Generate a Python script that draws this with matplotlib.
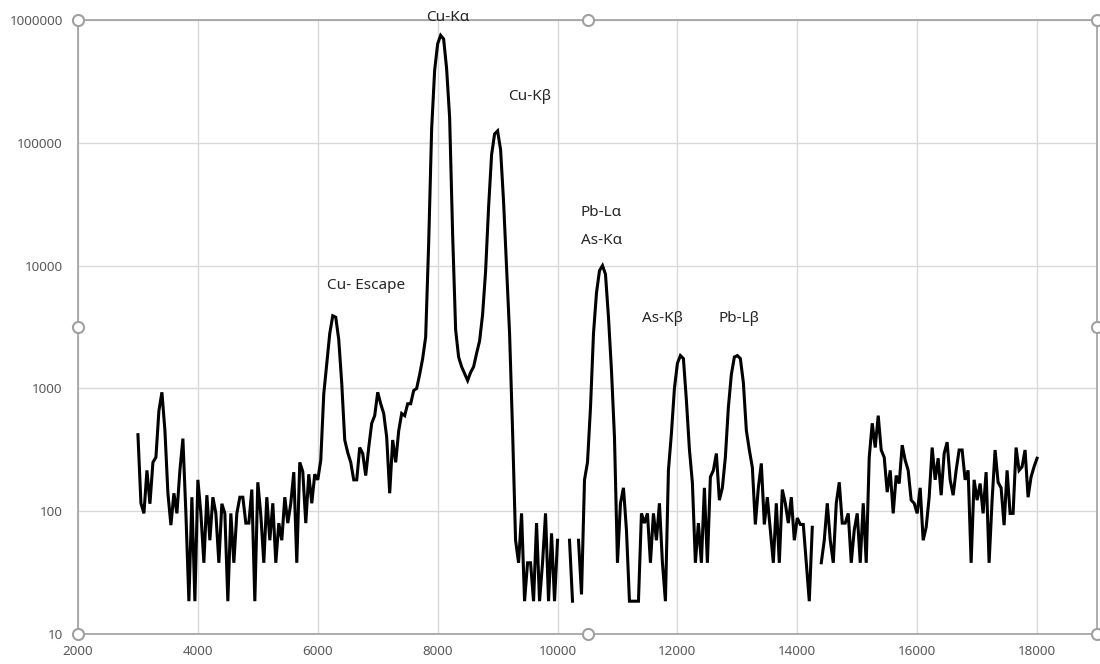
#!/usr/bin/env python3
"""XRF spectrum (log counts) with Cu / Pb / As line labels."""

import matplotlib
matplotlib.use("Agg")
import matplotlib.pyplot as plt
import numpy as np

nan = np.nan

# channel energies (eV), 50 eV steps from 3000 to 18000
energy = np.arange(3000, 18001, 50)

# counts, one list per 1000 eV
seg_3000 = [420, 116, 96, 215, 115, 250, 275, 660, 930, 455, 140, 77, 140, 96, 215, 390, 96, 18.5, 130, 18.5]
seg_4000 = [180, 96, 38, 135, 58, 130, 96, 38, 115, 96, 18.5, 96, 38, 96, 130, 130, 80, 80, 150, 18.5]
seg_5000 = [172, 93, 38, 130, 58, 116, 38, 80, 58, 130, 80, 116, 208, 38, 250, 210, 80, 200, 116, 200]
seg_6000 = [180, 260, 900, 1600, 2800, 3900, 3800, 2500, 1100, 380, 300, 250, 180, 180, 330, 295, 195, 330, 520, 600]
seg_7000 = [930, 750, 625, 400, 140, 380, 250, 450, 625, 600, 750, 750, 960, 1000, 1300, 1750, 2620, 15000, 130000, 390000]
seg_8000 = [640000, 750000, 700000, 400000, 160000, 18000, 3000, 1800, 1500, 1320, 1160, 1350, 1500, 1930, 2440, 4000, 9000, 30000, 80000, 118000]
seg_9000 = [125000, 88000, 33000, 9500, 2800, 450, 58, 38, 96, 18.5, 38, 38, 18.5, 80, 18.5, 38, 96, 18.5, 66, 18.5]
seg_10000 = [58, nan, nan, nan, 58, 18.5, nan, 58, 21, 180, 250, 700, 2800, 6000, 9100, 10000, 8500, 3800, 1400, 400]
seg_11000 = [38, 116, 155, 70, 18.5, 18.5, 18.5, 18.5, 96, 80, 96, 38, 96, 58, 116, 38, 18.5, 215, 430, 1000]
seg_12000 = [1600, 1850, 1750, 800, 320, 170, 38, 80, 38, 155, 38, 190, 215, 295, 123, 155, 275, 700, 1300, 1800]
seg_13000 = [1850, 1750, 1120, 455, 315, 228, 78, 155, 245, 78, 130, 70, 38, 116, 38, 150, 116, 80, 130, 58]
seg_14000 = [88, 78, 78, 38, 18.5, 74, nan, nan, 38, 58, 116, 58, 38, 116, 172, 80, 80, 96, 38, 70]
seg_15000 = [96, 38, 116, 38, 275, 520, 330, 600, 315, 275, 143, 215, 96, 195, 168, 345, 260, 215, 123, 116]
seg_16000 = [96, 155, 58, 74, 130, 330, 180, 270, 135, 295, 365, 180, 135, 215, 315, 315, 180, 215, 38, 180]
seg_17000 = [123, 168, 96, 208, 38, 123, 315, 172, 155, 77, 215, 96, 96, 330, 215, 230, 315, 130, 190, 230]
seg_18000 = [270]

counts = np.array(
    seg_3000 + seg_4000 + seg_5000 + seg_6000 + seg_7000 + seg_8000 + seg_9000 + seg_10000
    + seg_11000 + seg_12000 + seg_13000 + seg_14000 + seg_15000 + seg_16000 + seg_17000 + seg_18000,
    dtype=float,
)

x_ticks = [2000, 4000, 6000, 8000, 10000, 12000, 14000, 16000, 18000]
y_ticks = [10, 100, 1000, 10000, 100000, 1000000]

# peak labels: (text, energy, counts)
labels = [
    ("Cu-Kα", 8170, 1.04e6),
    ("Cu-Kβ", 9530, 2.4e5),
    ("Cu- Escape", 6810, 6900),
    ("Pb-Lα", 10730, 27000),
    ("As-Kα", 10730, 16000),
    ("As-Kβ", 11750, 3700),
    ("Pb-Lβ", 13030, 3700),
]

plt.rcParams["font.family"] = ["Noto Sans", "DejaVu Sans"]

fig = plt.figure(figsize=(11, 6.64), dpi=100)
ax = fig.add_axes([78 / 1100, 1 - 634 / 664, (1097 - 78) / 1100, (634 - 20) / 664])

ax.plot(energy, counts, color="black", lw=2.2, solid_joinstyle="miter")

ax.set_yscale("log")
ax.set_xlim(2000, 19000)
ax.set_ylim(10, 1000000)
ax.set_xticks(x_ticks)
ax.set_xticklabels([str(v) for v in x_ticks])
ax.set_yticks(y_ticks)
ax.set_yticklabels([str(v) for v in y_ticks])
ax.yaxis.set_minor_locator(matplotlib.ticker.NullLocator())
ax.tick_params(length=0, labelsize=9.7, labelcolor="#595959")
ax.tick_params(axis="y", pad=11)
ax.tick_params(axis="x", pad=8)
ax.grid(True, color="#d9d9d9", lw=1.0)
ax.set_axisbelow(True)
for sp in ax.spines.values():
    sp.set_color("#a6a6a6")
    sp.set_linewidth(1.3)

for text, ex, cy in labels:
    ax.text(ex, cy, text, ha="center", va="center", fontsize=11, color="#262626", clip_on=False)

# chart selection handles
hx = [0, 0.5, 1, 0, 1, 0, 0.5, 1]
hy = [0, 0, 0, 0.5, 0.5, 1, 1, 1]
ax.plot(hx, hy, ls="none", marker="o", ms=8, mfc="white", mec="#a0a0a0", mew=1.5,
        transform=ax.transAxes, clip_on=False, zorder=5)

fig.savefig("out.png", dpi=100)
